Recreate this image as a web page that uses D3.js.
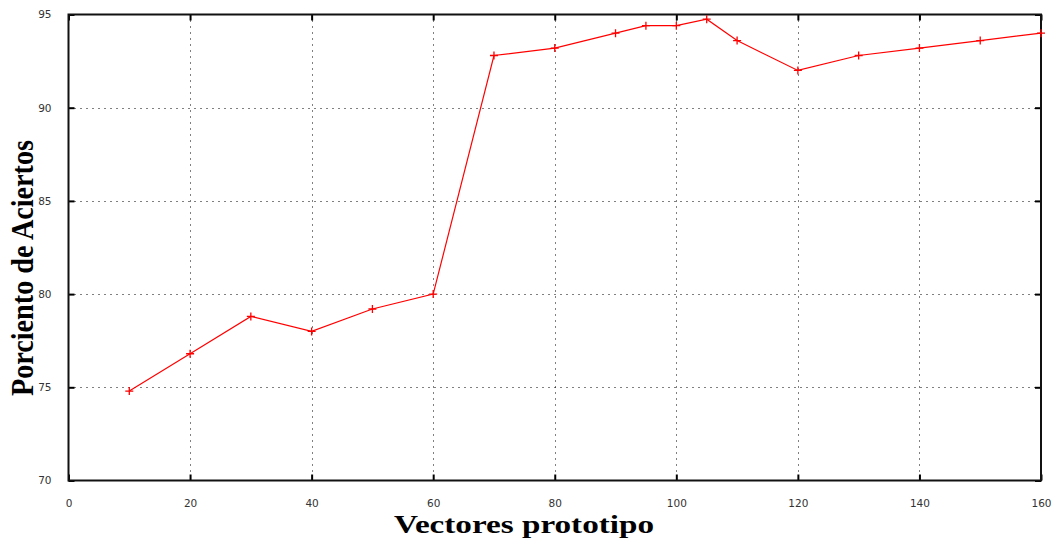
<!DOCTYPE html>
<html>
<head>
<meta charset="utf-8">
<script src="https://cdn.jsdelivr.net/npm/d3@7"></script>
<style>
  body { margin: 0; background: #fff; }
  svg { display: block; }
</style>
</head>
<body>
<div id="chart"></div>
<script>
const vectores = [10, 20, 30, 40, 50, 60, 70, 80, 90, 95, 100, 105, 110, 120, 130, 140, 150, 160];
const aciertos = [74.8, 76.8, 78.8, 78.0, 79.2, 80.0, 92.8, 93.2, 94.0, 94.4, 94.4, 94.75, 93.6, 92.0, 92.8, 93.2, 93.6, 94.0];
const xTicks = [0, 20, 40, 60, 80, 100, 120, 140, 160];
const yTicks = [70, 75, 80, 85, 90, 95];

const W = 1056, H = 541;
const plotL = 68.5, plotR = 1041, plotT = 14.5, plotB = 480.5;

const svg = d3.select('#chart').append('svg').attr('width', W).attr('height', H);

const x = d3.scaleLinear().domain([0, 160]).range([plotL, plotR]);
const y = d3.scaleLinear().domain([70, 95]).range([plotB, plotT]);

// dotted grid
const grid = svg.append('g').attr('stroke', '#000').attr('stroke-width', 1).attr('stroke-dasharray', '1,5');
grid.selectAll('line.gx').data(xTicks.slice(1, -1)).enter().append('line')
    .attr('x1', d => Math.round(x(d)) + 0.5).attr('x2', d => Math.round(x(d)) + 0.5)
    .attr('y1', plotT + 6).attr('y2', plotB - 4);
grid.selectAll('line.gy').data(yTicks.slice(1, -1)).enter().append('line')
    .attr('y1', d => Math.round(y(d)) + 0.5).attr('y2', d => Math.round(y(d)) + 0.5)
    .attr('x1', plotL + 6).attr('x2', plotR - 4);

// axes with inward ticks, mirrored
const tickStyle = g => {
    g.select('.domain').remove();
    g.selectAll('.tick line').attr('stroke', '#000').attr('stroke-width', 2);
    g.selectAll('.tick text').attr('fill', '#333').style('font-family', 'DejaVu Sans, sans-serif').style('font-size', '10.5px');
};
svg.append('g').attr('transform', `translate(0, ${plotB})`)
    .call(d3.axisBottom(x).tickValues(xTicks).tickSizeInner(-6).tickSizeOuter(0).tickPadding(19))
    .call(tickStyle);
svg.append('g').attr('transform', `translate(0, ${plotT})`)
    .call(d3.axisTop(x).tickValues(xTicks).tickSizeInner(-6).tickSizeOuter(0).tickFormat(''))
    .call(tickStyle);
svg.append('g').attr('transform', `translate(${plotL}, 0)`)
    .call(d3.axisLeft(y).tickValues(yTicks).tickSizeInner(-6).tickSizeOuter(0).tickPadding(17))
    .call(tickStyle);
svg.append('g').attr('transform', `translate(${plotR}, 0)`)
    .call(d3.axisRight(y).tickValues(yTicks).tickSizeInner(-6).tickSizeOuter(0).tickFormat(''))
    .call(tickStyle);

// frame
svg.append('rect').attr('x', plotL).attr('y', plotT).attr('width', plotR - plotL).attr('height', plotB - plotT)
    .attr('fill', 'none').attr('stroke', '#111').attr('stroke-width', 2);

// data line
const pts = vectores.map((v, i) => [v, aciertos[i]]);
svg.append('path').datum(pts)
    .attr('fill', 'none').attr('stroke', '#ff0000').attr('stroke-width', 1.2)
    .attr('d', d3.line().x(d => x(d[0])).y(d => y(d[1])));

svg.append('g').selectAll('path').data(pts).enter().append('path')
    .attr('transform', d => `translate(${x(d[0])}, ${y(d[1])})`)
    .attr('d', 'M-4,0H4M0,-4V4')
    .attr('stroke', '#ff0000').attr('stroke-width', 1.3);

// axis titles
svg.append('text').attr('x', 524).attr('y', 533).attr('text-anchor', 'middle')
    .style('font-family', 'Liberation Serif, serif').style('font-weight', 'bold').style('font-size', '26px')
    .attr('textLength', 260).attr('lengthAdjust', 'spacingAndGlyphs')
    .text('Vectores prototipo');

svg.append('text').attr('transform', 'translate(33, 268) rotate(-90)').attr('text-anchor', 'middle')
    .style('font-family', 'Liberation Serif, serif').style('font-weight', 'bold').style('font-size', '32px')
    .attr('textLength', 256).attr('lengthAdjust', 'spacingAndGlyphs')
    .text('Porciento de Aciertos');
</script>
</body>
</html>
